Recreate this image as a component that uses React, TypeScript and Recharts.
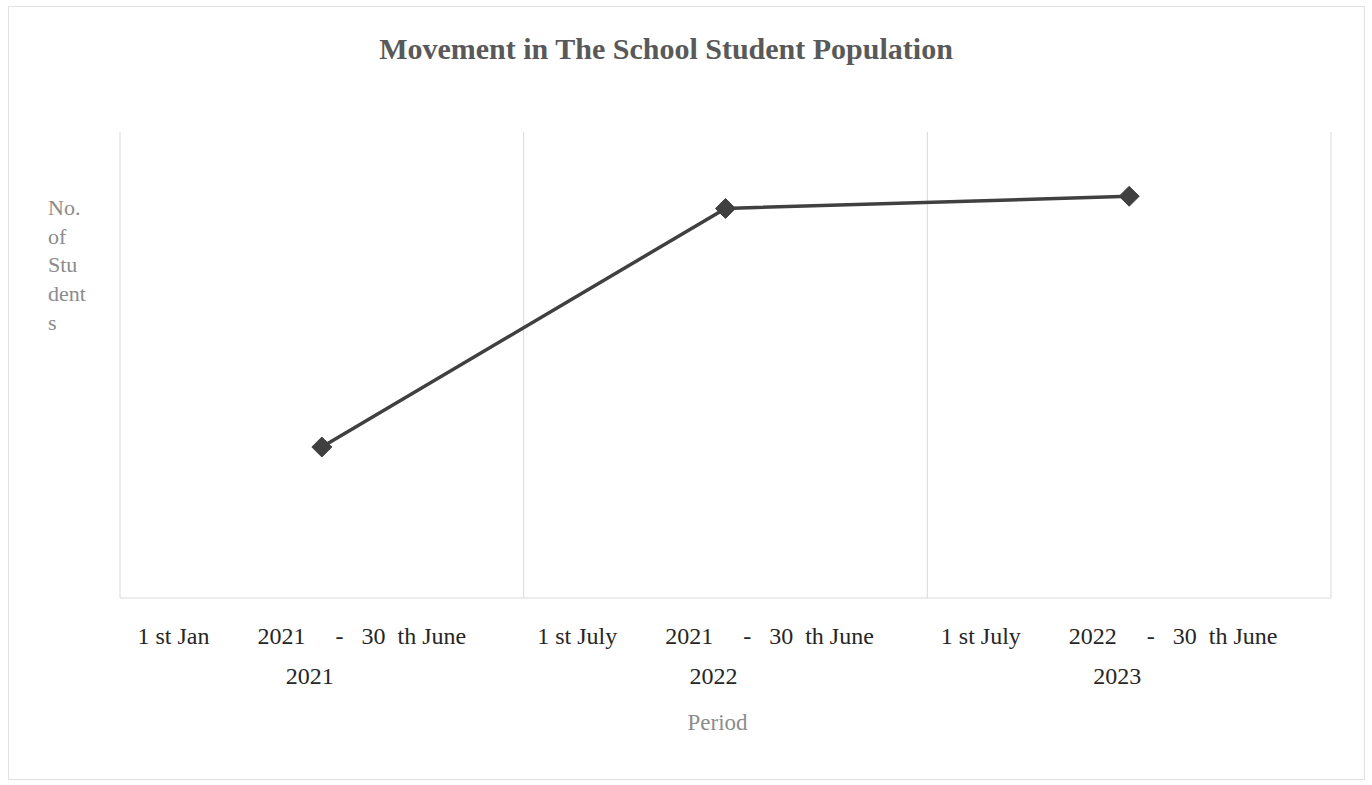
import React from 'react';
import { LineChart, Line, XAxis, YAxis, CartesianGrid } from 'recharts';

const categories: string[] = ['P1', 'P2', 'P3'];
const tickLine1: string[] = [
  '1 st Jan        2021     -   30  th June',
  '1 st July        2021     -   30  th June',
  '1 st July        2022     -   30  th June',
];
const tickLine2: string[] = ['2021', '2022', '2023'];
const students: number[] = [162, 418, 431];
const yDomain: [number, number] = [0, 500];

const data = categories.map((c, i) => ({ cat: c, value: students[i] }));

const FONT = '"Liberation Serif", "DejaVu Serif", serif';

const Tick = (props: any) => {
  const { x, y, index } = props;
  return (
    <g>
      <text x={x - 20} y={y + 38} textAnchor="middle" fontFamily={FONT} fontSize={24} fill="#262626" style={{ whiteSpace: 'pre' }}>
        {tickLine1[index]}
      </text>
      <text x={x - 12} y={y + 78} textAnchor="middle" fontFamily={FONT} fontSize={24} fill="#262626">
        {tickLine2[index]}
      </text>
    </g>
  );
};

const Diamond = (props: any) => {
  const { cx, cy } = props;
  if (cx == null || cy == null) return null;
  const r = 10;
  return <polygon points={`${cx},${cy - r} ${cx + r},${cy} ${cx},${cy + r} ${cx - r},${cy}`} fill="#404040" stroke="#404040" strokeWidth={1} />;
};

export default function App() {
  return (
    <div style={{ position: 'absolute', left: 0, top: 0, width: 1372, height: 785, background: '#fff', fontFamily: FONT }}>
      <div style={{ position: 'absolute', left: 8, top: 6, width: 1357, height: 774, border: '1px solid #e2e2e2', boxSizing: 'border-box' }} />
      <div style={{ position: 'absolute', left: 0, width: 1332, top: 32, textAlign: 'center', fontSize: 30, fontWeight: 'bold', color: '#595959' }}>
        Movement in The School Student Population
      </div>
      <div style={{ position: 'absolute', left: 48, top: 194, fontSize: 22, lineHeight: '28.7px', color: '#8c8c8c' }}>
        No.<br />of<br />Stu<br />dent<br />s
      </div>
      <div style={{ position: 'absolute', left: 0, top: 0 }}>
        <LineChart width={1372} height={785} data={data} margin={{ top: 132, right: 41, bottom: 47, left: 120 }}>
          <CartesianGrid
            horizontal={false}
            vertical={true}
            stroke="#d9d9d9"
            verticalCoordinatesGenerator={({ offset }: any) =>
              [...categories.map((_, i) => offset.left + (offset.width * i) / categories.length), offset.left + offset.width]
            }
          />
          <XAxis
            dataKey="cat"
            scale="band"
            height={140}
            axisLine={{ stroke: '#d9d9d9' }}
            tickLine={false}
            tick={<Tick />}
            interval={0}
            label={{ value: 'Period', position: 'insideBottom', offset: 8, fill: '#8c8c8c', fontSize: 23, fontFamily: FONT, dx: -8 }}
          />
          <YAxis hide domain={yDomain} />
          <Line
            type="linear"
            dataKey="value"
            stroke="#404040"
            strokeWidth={3.5}
            dot={<Diamond />}
            activeDot={false}
            isAnimationActive={false}
          />
        </LineChart>
      </div>
    </div>
  );
}
